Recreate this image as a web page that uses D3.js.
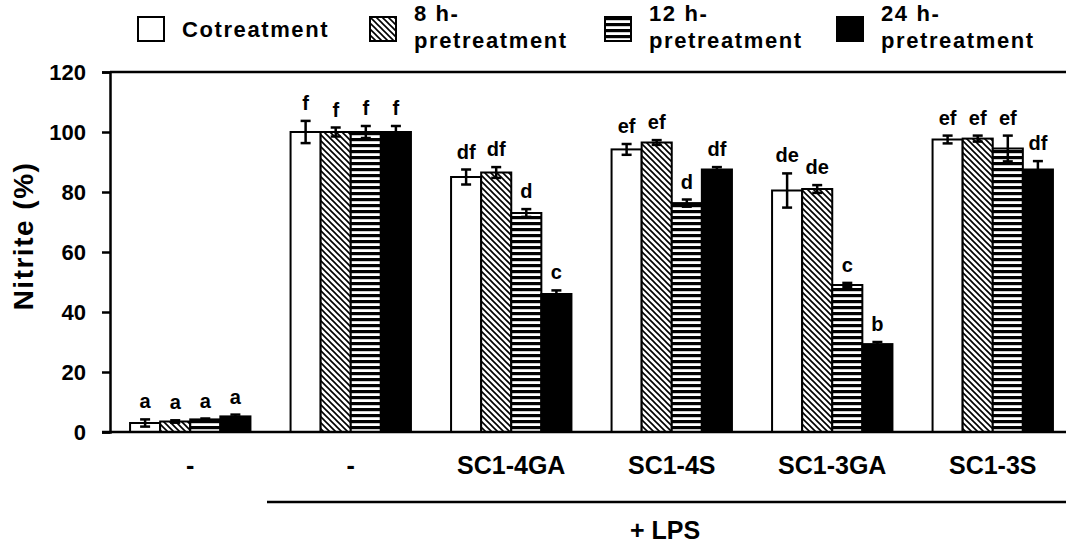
<!DOCTYPE html>
<html>
<head>
<meta charset="utf-8">
<script src="https://cdn.jsdelivr.net/npm/d3@7"></script>
<style>
  body { margin: 0; background: #fff; }
  svg text { font-family: "Liberation Sans", Arial, sans-serif; font-weight: bold; fill: #000; }
</style>
</head>
<body>
<div class="container"></div>
<script>
// groups (x axis) and series
var groupLabels = ["-", "-", "SC1-4GA", "SC1-4S", "SC1-3GA", "SC1-3S"];
var seriesKeys = ["co", "h8", "h12", "h24"];
var legendLabels = [["Cotreatment"], ["8 h-", "pretreatment"], ["12 h-", "pretreatment"], ["24 h-", "pretreatment"]];

// nitrite (%) per series, one value per group
var cotreatment = [3.0, 100, 85.0, 94.2, 80.5, 97.5];
var pre8h       = [3.5, 100, 86.5, 96.5, 81.0, 97.8];
var pre12h      = [4.2, 100, 73.0, 76.3, 49.0, 94.5];
var pre24h      = [5.2, 100, 46.0, 87.5, 29.3, 87.5];

// error (+/-)
var errCo  = [1.2, 3.7, 2.5, 1.8, 5.7, 1.3];
var err8h  = [0.4, 1.5, 1.8, 0.8, 1.3, 1.0];
var err12h = [0.3, 2.0, 1.3, 1.2, 0.7, 4.3];
var err24h = [0.6, 2.0, 1.2, 0.8, 0.7, 2.8];

// significance letters
var lettersCo  = ["a", "f", "df", "ef", "de", "ef"];
var letters8h  = ["a", "f", "df", "ef", "de", "ef"];
var letters12h = ["a", "f", "d", "d", "c", "ef"];
var letters24h = ["a", "f", "c", "df", "b", "df"];

var yTicks = [0, 20, 40, 60, 80, 100, 120];

var values = [cotreatment, pre8h, pre12h, pre24h];
var errors = [errCo, err8h, err12h, err24h];
var letters = [lettersCo, letters8h, letters12h, letters24h];

var w = 1066, h = 546;
var plotL = 110, plotT = 72, plotB = 432, plotR = 1073;

var svg = d3.select(".container").append("svg")
  .attr("width", w).attr("height", h);

// patterns
var defs = svg.append("defs");
var hatch = defs.append("pattern").attr("id", "hatch")
  .attr("patternUnits", "userSpaceOnUse").attr("width", 6).attr("height", 6);
hatch.append("rect").attr("width", 6).attr("height", 6).attr("fill", "#fff");
hatch.append("path").attr("d", "M-1,-1L7,7M-7,-1L1,7M5,-1L13,7")
  .attr("stroke", "#000").attr("stroke-width", 1.6);
var stripe = defs.append("pattern").attr("id", "stripe")
  .attr("patternUnits", "userSpaceOnUse").attr("width", 8).attr("height", 6);
stripe.append("rect").attr("width", 8).attr("height", 6).attr("fill", "#fff");
stripe.append("rect").attr("y", 0).attr("width", 8).attr("height", 3.2).attr("fill", "#000");

var fills = ["#fff", "url(#hatch)", "url(#stripe)", "#000"];

// scales
var groupIdx = d3.range(groupLabels.length);
var x0 = d3.scaleBand().domain(groupIdx).range([plotL, plotR])
  .paddingInner(0.25).paddingOuter(0.125);
var x1 = d3.scaleBand().domain(seriesKeys).range([0, x0.bandwidth()]);
var y = d3.scaleLinear().domain([0, 120]).range([plotB, plotT]);

// flat data
var data = [];
groupIdx.forEach(function (g) {
  seriesKeys.forEach(function (k, s) {
    data.push({ g: g, s: s, key: k, v: values[s][g], e: errors[s][g], l: letters[s][g] });
  });
});

// bars
svg.append("g").selectAll("rect").data(data).enter().append("rect")
  .attr("x", function (d) { return x0(d.g) + x1(d.key); })
  .attr("y", function (d) { return y(d.v); })
  .attr("width", x1.bandwidth())
  .attr("height", function (d) { return y(0) - y(d.v); })
  .attr("fill", function (d) { return fills[d.s]; })
  .attr("stroke", "#000").attr("stroke-width", 2);

// error bars
var eb = svg.append("g").selectAll("g").data(data).enter().append("g")
  .attr("transform", function (d) { return "translate(" + (x0(d.g) + x1(d.key) + x1.bandwidth() / 2) + ",0)"; });
eb.append("line")
  .attr("y1", function (d) { return y(d.v - d.e); })
  .attr("y2", function (d) { return y(d.v + d.e); })
  .attr("stroke", "#000").attr("stroke-width", 2.5);
eb.append("line").attr("x1", -5).attr("x2", 5)
  .attr("y1", function (d) { return y(d.v + d.e); })
  .attr("y2", function (d) { return y(d.v + d.e); })
  .attr("stroke", "#000").attr("stroke-width", 2.5);
eb.append("line").attr("x1", -5).attr("x2", 5)
  .attr("y1", function (d) { return y(d.v - d.e); })
  .attr("y2", function (d) { return y(d.v - d.e); })
  .attr("stroke", "#000").attr("stroke-width", 2.5);
eb.append("text")
  .attr("y", function (d) { return y(d.v + d.e) - 11; })
  .attr("text-anchor", "middle")
  .style("font-size", "20px")
  .text(function (d) { return d.l; });

// y axis
var yAxis = d3.axisLeft(y).tickValues(yTicks).tickSize(8).tickPadding(16);
var ya = svg.append("g").attr("transform", "translate(" + plotL + ",0)").call(yAxis);
ya.select(".domain").attr("stroke-width", 2.5);
ya.selectAll(".tick line").attr("stroke-width", 2.5);
ya.selectAll(".tick text").style("font-size", "22px").attr("dy", "0.36em");

// top frame line and bottom axis line
svg.append("line").attr("x1", plotL).attr("x2", w).attr("y1", plotT).attr("y2", plotT)
  .attr("stroke", "#000").attr("stroke-width", 2.5);
svg.append("line").attr("x1", plotL - 8).attr("x2", w).attr("y1", plotB).attr("y2", plotB)
  .attr("stroke", "#000").attr("stroke-width", 2.5);

// category labels
svg.append("g").selectAll("text").data(groupIdx).enter().append("text")
  .attr("x", function (g) { return x0(g) + x0.bandwidth() / 2; })
  .attr("y", 474)
  .attr("text-anchor", "middle")
  .style("font-size", "25px")
  .text(function (g) { return groupLabels[g]; });

// + LPS bracket
svg.append("line").attr("x1", 267).attr("x2", w).attr("y1", 502).attr("y2", 502)
  .attr("stroke", "#000").attr("stroke-width", 2.5);
svg.append("text")
  .attr("x", 665).attr("y", 539)
  .attr("text-anchor", "middle")
  .style("font-size", "25px")
  .text("+ LPS");

// y title
svg.append("text")
  .attr("transform", "translate(33,236) rotate(-90)")
  .attr("text-anchor", "middle")
  .style("font-size", "28px")
  .style("letter-spacing", "1.5px")
  .text("Nitrite (%)");

// legend
var legendX = [138, 370, 605, 837];
var lg = svg.append("g").selectAll("g").data(seriesKeys).enter().append("g")
  .attr("transform", function (d, i) { return "translate(" + legendX[i] + ",17)"; });
lg.append("rect").attr("width", 26).attr("height", 24)
  .attr("fill", function (d, i) { return fills[i]; })
  .attr("stroke", "#000").attr("stroke-width", 2);
lg.each(function (d, i) {
  var t = d3.select(this).append("text")
    .style("font-size", "22px").style("letter-spacing", "1.6px");
  var lines = legendLabels[i];
  if (lines.length == 1) {
    t.append("tspan").attr("x", 44).attr("y", 20).text(lines[0]);
  } else {
    t.append("tspan").attr("x", 44).attr("y", 4).text(lines[0]);
    t.append("tspan").attr("x", 44).attr("y", 31).text(lines[1]);
  }
});
</script>
</body>
</html>
